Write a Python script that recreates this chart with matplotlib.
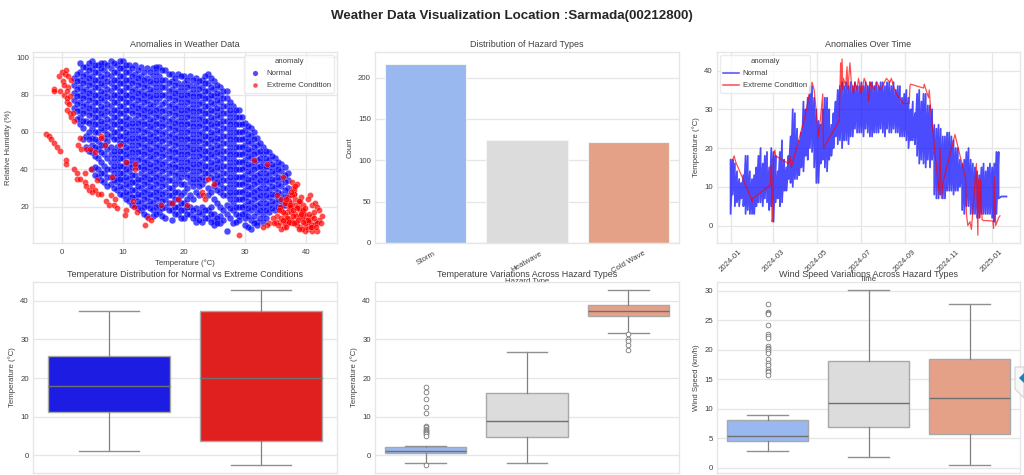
import pandas as pd
import matplotlib.pyplot as plt
import matplotlib.dates as mdates
from matplotlib.patches import Polygon

plt.rcParams['font.family'] = ['Liberation Sans', 'DejaVu Sans']
plt.rcParams['text.color'] = '#404040'
plt.rcParams['axes.labelcolor'] = '#404040'
plt.rcParams['xtick.color'] = '#404040'
plt.rcParams['ytick.color'] = '#404040'

# scatter: humidity readings grouped by temperature
normal_rh_by_temp = {
    2: [89, 85, 81, 77, 73],
    3: [97, 92, 88, 84, 80, 76, 72, 68, 64],
    4: [95, 91, 87, 83, 79, 75, 71, 66, 58, 52],
    5: [98, 94, 90, 86, 82, 78, 74, 70, 66, 62, 57, 53, 49, 40],
    6: [96, 92, 88, 84, 80, 76, 72, 68, 64, 60, 55, 51, 46, 40, 36],
    7: [97, 93, 89, 85, 81, 77, 73, 69, 65, 61, 57, 53, 48, 42, 38, 33],
    8: [98, 94, 90, 86, 82, 78, 74, 70, 66, 62, 58, 52, 48, 44, 40, 36, 32],
    9: [96, 92, 88, 84, 80, 76, 72, 68, 64, 60, 56, 52, 48, 44, 40, 36, 33, 29],
    10: [98, 94, 90, 86, 82, 78, 74, 70, 66, 62, 58, 54, 50, 46, 42, 38, 34, 30, 26],
    11: [96, 92, 88, 84, 80, 76, 72, 67, 63, 59, 55, 51, 47, 43, 39, 35, 31, 27, 23],
    12: [96, 91, 87, 83, 79, 75, 71, 67, 63, 59, 55, 51, 47, 43, 37, 33, 29, 25, 21],
    13: [95, 90, 86, 82, 78, 74, 70, 66, 62, 58, 54, 50, 46, 42, 38, 34, 30, 26, 22, 18],
    14: [94, 89, 85, 81, 77, 73, 69, 65, 61, 57, 53, 49, 45, 41, 37, 33, 29, 25, 21, 15],
    15: [94, 90, 86, 82, 78, 74, 70, 66, 62, 58, 54, 50, 46, 42, 38, 34, 30, 26, 22, 18, 15],
    16: [95, 90, 86, 82, 78, 73, 69, 65, 61, 57, 53, 49, 45, 41, 37, 33, 29, 25, 21, 17],
    17: [93, 88, 84, 80, 76, 72, 68, 64, 60, 56, 52, 48, 44, 40, 36, 32, 28, 24, 20, 14],
    18: [91, 87, 83, 79, 75, 71, 67, 63, 59, 55, 51, 47, 43, 39, 34, 30, 26, 22, 18, 13],
    19: [91, 86, 82, 78, 74, 70, 66, 62, 58, 54, 50, 46, 42, 38, 34, 28, 24, 20, 16],
    20: [90, 86, 82, 78, 74, 70, 66, 62, 58, 54, 50, 46, 42, 38, 32, 28, 22, 18, 14],
    21: [90, 85, 81, 77, 73, 69, 65, 61, 57, 53, 49, 45, 41, 37, 33, 26, 20, 16],
    22: [89, 85, 81, 77, 73, 69, 65, 61, 57, 53, 49, 45, 41, 37, 33, 28, 19, 15, 12],
    23: [88, 84, 80, 76, 72, 68, 64, 60, 56, 52, 48, 44, 40, 36, 32, 20, 16, 12],
    24: [91, 86, 82, 78, 74, 70, 66, 62, 58, 54, 50, 46, 42, 38, 30, 26, 18, 14],
    25: [87, 83, 79, 75, 71, 67, 63, 59, 55, 51, 47, 43, 39, 35, 31, 24, 16, 13, 10],
    26: [84, 80, 76, 72, 68, 64, 60, 56, 52, 48, 44, 40, 36, 32, 28, 20, 15, 11],
    27: [82, 78, 74, 70, 66, 62, 58, 54, 50, 46, 42, 38, 34, 30, 26, 21, 16, 7],
    28: [74, 70, 66, 62, 58, 54, 50, 46, 42, 38, 34, 30, 26, 22, 18, 11],
    29: [72, 68, 64, 60, 56, 52, 48, 44, 40, 36, 32, 28, 24, 20, 15, 13],
    30: [65, 61, 57, 53, 49, 45, 41, 37, 33, 29, 25, 21, 17, 14, 10],
    31: [62, 58, 54, 50, 46, 42, 38, 34, 30, 26, 22, 18, 13, 8],
    32: [57, 53, 49, 45, 41, 37, 33, 29, 25, 21, 17, 12, 10],
    33: [52, 48, 44, 40, 36, 32, 28, 24, 20, 16, 12],
    34: [49, 45, 41, 37, 33, 29, 25, 21, 17],
    35: [46, 42, 38, 34, 30, 26, 22, 18],
    36: [43, 39, 35, 31, 27, 23, 20],
    37: [38, 34, 30, 26, 22],
}
normal_rh_half_deg = {
    2.5: [91, 87, 83, 79, 75, 71, 67],
    3.5: [95, 90, 86, 82, 78, 74, 70, 66, 62, 56],
    4.5: [97, 93, 89, 85, 81, 77, 73, 69, 65, 60, 56, 50],
    5.5: [96, 92, 88, 84, 80, 76, 72, 68, 64, 60, 56, 52, 47, 41, 37],
    6.5: [97, 94, 90, 86, 82, 78, 74, 70, 66, 62, 53, 49, 44, 38, 34],
    7.5: [96, 91, 87, 83, 79, 75, 71, 67, 63, 59, 55, 51, 46, 40, 36, 31],
    8.5: [97, 92, 88, 84, 80, 76, 72, 68, 64, 60, 56, 50, 46, 42, 38, 34, 30],
    9.5: [98, 94, 90, 86, 82, 78, 74, 70, 66, 62, 58, 54, 50, 46, 42, 38, 35, 31, 27],
    10.5: [96, 92, 88, 84, 80, 76, 72, 68, 64, 60, 56, 52, 48, 44, 40, 36, 32, 28, 24],
    11.5: [94, 90, 86, 82, 78, 74, 70, 65, 61, 57, 53, 49, 45, 41, 37, 33, 29, 25, 21],
    12.5: [93, 89, 85, 81, 77, 73, 69, 65, 61, 57, 53, 49, 45, 41, 35, 31, 27, 23, 19],
    13.5: [92, 88, 84, 80, 76, 72, 68, 64, 60, 56, 52, 48, 44, 40, 36, 32, 28, 24, 20, 16],
    14.5: [92, 87, 83, 79, 75, 71, 67, 63, 59, 55, 51, 47, 43, 39, 35, 31, 27, 23, 19],
    15.5: [95, 92, 88, 84, 80, 76, 72, 68, 64, 60, 56, 52, 48, 44, 40, 36, 32, 28, 24, 20, 16],
    16.5: [93, 88, 84, 80, 75, 71, 67, 63, 59, 55, 51, 47, 43, 39, 35, 31, 27, 23, 19, 15],
    17.5: [91, 86, 82, 78, 74, 70, 66, 62, 58, 54, 50, 46, 42, 38, 34, 30, 26, 22, 18],
    18.5: [89, 85, 81, 77, 73, 69, 65, 61, 57, 53, 49, 45, 41, 37, 32, 28, 24, 20, 16],
    19.5: [90, 84, 80, 76, 72, 68, 64, 60, 56, 52, 48, 44, 40, 36, 32, 26, 22, 18, 14],
    20.5: [88, 84, 80, 76, 72, 68, 64, 60, 56, 52, 48, 44, 40, 36, 30, 24, 20, 16],
    21.5: [88, 83, 79, 75, 71, 67, 63, 59, 55, 51, 47, 43, 39, 35, 31, 24, 18, 14],
    22.5: [87, 83, 79, 75, 71, 67, 63, 59, 55, 51, 47, 43, 39, 35, 31, 26, 17, 13],
    23.5: [90, 86, 82, 78, 74, 70, 66, 62, 58, 54, 50, 46, 42, 38, 34, 18, 14],
    24.5: [89, 84, 80, 76, 72, 68, 64, 60, 56, 52, 48, 44, 40, 36, 28, 20, 16, 12],
    25.5: [85, 81, 77, 73, 69, 65, 61, 57, 53, 49, 45, 41, 37, 33, 29, 22, 14, 11],
    26.5: [82, 78, 74, 70, 66, 62, 58, 54, 50, 46, 42, 38, 34, 30, 26, 18, 13],
    27.5: [76, 72, 68, 64, 60, 56, 52, 48, 44, 40, 36, 32, 28, 24, 19, 14],
    28.5: [72, 68, 64, 60, 56, 52, 48, 44, 40, 36, 32, 28, 24, 20, 16, 12],
    29.5: [68, 64, 60, 56, 52, 48, 44, 40, 36, 32, 28, 24, 20, 16],
    30.5: [63, 59, 55, 51, 47, 43, 39, 35, 31, 27, 23, 19, 15, 9],
    31.5: [60, 56, 52, 48, 44, 40, 36, 32, 28, 24, 20, 15, 11],
    32.5: [54, 50, 46, 42, 38, 34, 30, 26, 22, 18, 14],
    33.5: [50, 46, 42, 38, 34, 30, 26, 22, 18, 14],
    34.5: [47, 43, 39, 35, 31, 27, 23, 19],
    35.5: [44, 40, 36, 32, 28, 24, 20],
    36.5: [41, 37, 33, 29, 25, 21],
}
extreme_temp = [
    -2.5, -2, -1.8, -1.2, -0.8, -0.3, 0.7, 0.7, 2, 2.5, 2.5, 3, 3.8, 3.8, 4, 4.5, 5, 5, 5.5, 6,
    6.5, 5.8, 7.3, 7.8, 8, 8.5, 8.8, 9, 10.5, 10.3, 11.7, 11.9, 12.3, -1.3, -1.2, -0.5, -0.2, 0, 0.2, 0.4,
    0.5, 0.7, 0.8, 1, 1.1, 1.3, 1.5, 0.3, 0.8, 1.2, 0.9, 1.4, 0.8, 1.5, 1.8, 2, 3, 2.7, 3.2, 4,
    4.6, 5.4, 6.5, 7.1, 8.2, 9.5, 10.5, 12, 12, 6.5, 4.8, 13.7, 14.2, 14.6, 29.1, 23, 23.1, 23.4, 24, 25,
    19, 20.5, 18, 16.2, 31.5, 33.7, 36.3, 35.2, 37.7, 37.9, 38.1, 38.3, 37.5, 38, 38.6, 37.2, 36.9, 38.8, 39.2, 39.6,
    39, 40.6, 41, 40.3, 41.5, 41.8, 42.1, 42.7, 42.2, 41.6, 41, 40.4, 39.8, 39.1, 38.5, 37.8, 37.1, 36.6, 36, 35.7,
    35.2, 35.8, 36.4, 37, 37.6, 38.2, 38.8, 39.4, 40, 40.6, 41.2, 41.8, 41.9, 41, 40.1, 39.3, 38.4, 37.6, 36.7, 35.9,
    35.1, 34.6, 34, 33.6, 33, 36, 36.8, 37.5, 38.3, 39, 39.7, 40.5, 37, 38, 39, 40, 41, 38.5, 39.5, 40.5,
    36.2, 36.9, 37.4, 37.9, 38.4, 38.9, 39.4, 39.9, 40.4, 40.9, 41.4, 36.5, 37.2, 37.8, 38.6, 39.2, 39.8, 40.3, 40.8, 41.3,
    35.4, 35.9, 36.5, 37.3, 37.9, 38.7, 39.3, 37.5, 38.2, 36.8, 37.4, 38.1, 38.8, 35.6, 36.2, 36.7, 34.8, 42.4, 41.7, 39.6,
]
extreme_rh = [
    59, 58, 56, 54, 52, 50, 45, 43, 40, 38, 35, 35, 38, 33, 31, 29, 31, 28, 29, 27,
    27, 34, 23, 21, 26, 21, 24, 19.5, 18, 15.5, 23, 20, 17, 83, 82, 90, 82, 92, 87, 80,
    91, 93, 76, 90, 84, 79, 88, 85, 78, 75, 72, 70, 82, 68, 70, 66, 57, 53, 51, 51,
    51, 49, 58, 53, 36, 53, 44, 40, 43, 57, 40, 10, 14, 13, 5, 28, 26, 24, 35, 32,
    24, 21, 22, 21, 45, 43, 36, 26, 33, 30, 27, 24, 22, 29, 32, 19, 17, 22, 25, 21,
    18, 26, 21, 24, 22, 20, 18, 15, 13, 12, 10, 8, 7, 9, 10, 11, 14, 16, 18, 20,
    15, 12, 9, 11, 13, 16, 19, 17, 15, 13, 10, 7, 11, 15, 13, 18, 15, 20, 22, 24,
    12, 14, 11, 10, 9, 8, 13, 17, 21, 23, 16, 12, 25, 27, 15, 9, 7, 20, 18, 16,
    17, 14, 20, 15, 12, 23, 14, 19, 12, 9, 17, 11, 23, 26, 19, 16, 11, 13, 9, 14,
    10, 14, 22, 12, 18, 13, 8, 28, 31, 24, 21, 11, 8, 18, 13, 9, 11, 11, 9, 12,
]

# bar chart
hazard_types = ['Storm', 'Heatwave', 'Cold Wave']
hazard_counts = [216, 124, 122]
hazard_colors = ['#9ab8f0', '#dcdcdc', '#e5a088']

# time series: high/low readings every three days from 2024-01-01
temp_high = [
    17, 17, 16, 14, 12, 11, 13, 18, 18, 14, 12,
    13, 15, 18, 20, 16, 18, 19, 15, 20, 19,
    18, 14, 19, 22, 17, 15, 18, 23, 30, 29,
    25, 22, 24, 32, 30, 33, 36, 36, 33, 30,
    27, 26, 30, 33, 33, 30, 26, 29, 32, 35,
    36, 37, 36, 37, 36, 37, 36, 37, 36, 36,
    37, 36, 37, 36, 37, 37, 36, 37, 36, 37,
    37, 36, 37, 37, 36, 37, 35, 36, 36, 33,
    34, 35, 33, 30, 32, 29, 34, 35, 32, 34,
    34, 31, 31, 30, 26, 25, 26, 25, 23, 23,
    24, 24, 23, 22, 20, 20, 17, 16, 17, 19,
    20, 17, 16, 15, 14, 13, 15, 16, 14, 15,
    16, 15, 16, 19, 19,
]
temp_low = [
    3, 8, 5, 6, 5, 7, 5, 3, 4, 3, 3,
    3, 5, 6, 6, 5, 7, 6, 4, 5, 1,
    6, 7, 5, 6, 9, 9, 12, 11, 10, 12,
    12, 13, 15, 14, 18, 17, 20, 19, 15, 11,
    11, 16, 17, 15, 14, 17, 18, 20, 23, 21,
    22, 20, 22, 22, 21, 23, 23, 25, 24, 24,
    24, 23, 25, 24, 23, 23, 24, 24, 24, 25,
    24, 23, 25, 24, 24, 25, 24, 24, 23, 23,
    23, 22, 20, 22, 22, 21, 18, 16, 17, 16,
    15, 17, 15, 17, 8, 7, 7, 8, 7, 7,
    9, 9, 9, 8, 9, 9, 10, 4, 3, 5,
    5, 3, 3, 3, 2, 2, 3, 3, 3, 3,
    3, 2, 1, 3, 7,
]
tail_dates = ['2025-01-14', '2025-01-21']
tail_temps = [7.5, 7.5]

extreme_dates = [
    '2024-01-04', '2024-01-06', '2024-01-08', '2024-01-30', '2024-01-31', '2024-02-01', '2024-02-26',
    '2024-02-27', '2024-02-28', '2024-02-29', '2024-03-01', '2024-03-03', '2024-03-04', '2024-03-22',
    '2024-03-24', '2024-03-26', '2024-04-14', '2024-04-22', '2024-04-24', '2024-04-27', '2024-05-03',
    '2024-05-06', '2024-05-09', '2024-05-10', '2024-06-01', '2024-06-02', '2024-06-03', '2024-06-04',
    '2024-06-05', '2024-06-06', '2024-06-07', '2024-06-10', '2024-06-12', '2024-06-13', '2024-06-14',
    '2024-06-16', '2024-06-18', '2024-06-19', '2024-06-21', '2024-06-23', '2024-06-26', '2024-06-28',
    '2024-07-02', '2024-07-06', '2024-07-10', '2024-07-12', '2024-07-15', '2024-07-20', '2024-07-24',
    '2024-07-28', '2024-08-01', '2024-08-06', '2024-08-11', '2024-08-13', '2024-08-16', '2024-08-20',
    '2024-08-28', '2024-08-29', '2024-09-07', '2024-09-08', '2024-09-09', '2024-09-27', '2024-09-28',
    '2024-10-04', '2024-10-05', '2024-10-07', '2024-10-19', '2024-10-20', '2024-10-22', '2024-10-24',
    '2024-11-10', '2024-11-25', '2024-11-26', '2024-11-28', '2024-12-01', '2024-12-03', '2024-12-10',
    '2024-12-12', '2024-12-13', '2024-12-15', '2024-12-16', '2024-12-18', '2024-12-19', '2024-12-20',
    '2025-01-02', '2025-01-03', '2025-01-04', '2025-01-06', '2025-01-08', '2025-01-10', '2025-01-12',
]
extreme_temps = [
    17, 18, 16.5, 7, 6, 7, 10.5,
    15.5, 1, 2, 18, 19.5, 18, 16,
    18, 15, 28, 36, 37, 35, 23,
    28, 34, 20, 27, 35, 42, 36,
    43, 35, 38, 36, 41, 35, 37,
    42, 37, 36, 34, 37, 35, 38,
    34, 38, 36, 32, 37, 35, 37,
    35, 36, 38, 37, 38, 36, 34,
    32, 31.5, 31.5, 36, 36.5, 35.5, 36.5,
    33, 35, 30, 8, 20, 7, 11,
    23.5, 12, 3, 0, 1, -1, 16,
    -2.5, 12, 2, 12, 1.5, 1.4, 1.3,
    1.2, -0.7, 12.5, 0, 1, 2, 2.5,
]
time_ticks = ['2024-01-01', '2024-03-01', '2024-05-01', '2024-07-01', '2024-09-01', '2024-11-01', '2025-01-01']

# box plots (q1, median, q3, whisker low, whisker high)
anomaly_boxes = [[11.2, 18, 25.7, 1.2, 37.5], [3.8, 20, 37.4, -2.5, 42.7]]
anomaly_colors = ['#1c1ce3', '#e01f1f']

hazard_temp_boxes = [[0.5, 1, 2.2, -2, 2.4], [4.8, 8.8, 16.2, -2, 26.8], [36, 37.5, 38.9, 31.8, 42.7]]
hazard_temp_fliers = [
    [17.7, 16.4, 14.6, 12.5, 11, 7.5, 7.2, 6.9, 6.6, 6.3, 6, 5.7, 5.4, 5.1, -2.6],
    [],
    [31.3, 30, 29.5, 28.5, 27.3],
]
hazard_wind_boxes = [[4.6, 5.5, 8.2, 2.9, 8.9], [6.9, 11, 18.2, 1.9, 30.1], [5.7, 11.9, 18.5, 0.5, 27.7]]
hazard_wind_fliers = [
    [27.7, 26.5, 26.3, 26.1, 24.3, 22.7, 22.3, 22, 20.7, 20.4, 20.1, 19.8, 19.4, 18.5, 17.8, 17.4, 16.8, 16.5, 16.2, 15.8],
    [],
    [],
]


def panel(left, top, right, bottom):
    # axes box given in pixels from the top left of the 1024x475 figure
    ax = fig.add_axes([left / 1024, 1 - bottom / 475, (right - left) / 1024, (bottom - top) / 475])
    ax.grid(True, color='#e6e6e6', lw=0.9)
    ax.set_axisbelow(True)
    for s in ax.spines.values():
        s.set_color('#e6e6e6')
        s.set_linewidth(1.0)
    ax.tick_params(length=0, labelsize=5.6, pad=3)
    return ax


def draw_boxes(ax, boxes, colors, fliers=None):
    stats = []
    for i, b in enumerate(boxes):
        stats.append({'q1': b[0], 'med': b[1], 'q3': b[2], 'whislo': b[3], 'whishi': b[4],
                      'fliers': fliers[i] if fliers else []})
    art = ax.bxp(stats, positions=range(len(boxes)), widths=0.8, patch_artist=True, manage_ticks=False,
                 capwidths=0.4,
                 medianprops={'color': '#707070', 'lw': 1.0},
                 whiskerprops={'color': '#808080', 'lw': 0.9},
                 capprops={'color': '#909090', 'lw': 1.0},
                 boxprops={'edgecolor': '#a8a8a8', 'lw': 1.0},
                 flierprops={'marker': 'o', 'markersize': 3.4, 'markerfacecolor': 'white',
                             'markeredgecolor': '#777777', 'markeredgewidth': 0.6})
    for patch, c in zip(art['boxes'], colors):
        patch.set_facecolor(c)
    ax.set_xlim(-0.5, len(boxes) - 0.5)
    ax.set_xticks([])


fig = plt.figure(figsize=(10.24, 4.75), dpi=100)
fig.text(0.5, 1 - 15.5 / 475, 'Weather Data Visualization Location :Sarmada(00212800)',
         ha='center', va='center', fontsize=9.65, fontweight='bold', color='#262626')

# top left
ax1 = panel(33, 52, 337, 243)
normal_temp = []
normal_rh = []
for group in (normal_rh_by_temp, normal_rh_half_deg):
    for t, rhs in group.items():
        normal_temp += [t] * len(rhs)
        normal_rh += rhs
ax1.scatter(normal_temp, normal_rh, s=23, c='blue', alpha=0.7, edgecolors='white', linewidths=0.15, label='Normal')
ax1.scatter(extreme_temp, extreme_rh, s=19, c='red', alpha=0.7, edgecolors='white', linewidths=0.2,
            label='Extreme Condition')
ax1.set_xlim(-4.7, 45.1)
ax1.set_ylim(0.5, 102.8)
ax1.set_xticks([0, 10, 20, 30, 40])
ax1.set_yticks([20, 40, 60, 80, 100])
ax1.tick_params(axis='x', pad=4)
ax1.set_title('Anomalies in Weather Data', fontsize=6.5, pad=3.5)
ax1.set_xlabel('Temperature (°C)', fontsize=5.6, labelpad=2.5)
ax1.set_ylabel('Relative Humidity (%)', fontsize=5.6, labelpad=3)
ax1.legend(title='anomaly', loc='upper right', fontsize=5.6, title_fontsize=5.6, markerscale=0.8, borderpad=0.4,
           labelspacing=0.6, handletextpad=0.5, framealpha=0.8, edgecolor='#e6e6e6', borderaxespad=0.4)

# top middle
ax2 = panel(375, 52, 679, 243)
ax2.bar(range(3), hazard_counts, width=0.8, color=hazard_colors, edgecolor='#f4f4f4', linewidth=0.8)
ax2.set_xlim(-0.5, 2.5)
ax2.set_ylim(0, 231)
ax2.set_xticks(range(3))
ax2.set_xticklabels(hazard_types, rotation=30)
ax2.tick_params(axis='x', pad=5)
ax2.set_yticks([0, 50, 100, 150, 200])
ax2.xaxis.grid(False)
ax2.set_title('Distribution of Hazard Types', fontsize=6.5, pad=3.5)
ax2.set_xlabel('Hazard Type', fontsize=5.6, labelpad=2)
ax2.set_ylabel('Count', fontsize=5.6, labelpad=3)

# top right
ax3 = panel(717, 52, 1020, 243)
band_dates = pd.date_range('2024-01-01', periods=len(temp_high), freq='3D')
zig_x = []
zig_y = []
for d, hi, lo in zip(band_dates, temp_high, temp_low):
    zig_x += [d, d]
    zig_y += [hi, lo]
zig_x += list(pd.to_datetime(tail_dates))
zig_y += tail_temps
ax3.plot(zig_x, zig_y, color='blue', alpha=0.7, lw=1.3, label='Normal')
ax3.plot(pd.to_datetime(extreme_dates), extreme_temps, color='red', alpha=0.7, lw=0.9, label='Extreme Condition')
ax3.set_xlim(pd.Timestamp('2023-12-13'), pd.Timestamp('2025-02-09'))
ax3.set_ylim(-4.5, 44.8)
ax3.set_xticks(pd.to_datetime(time_ticks))
ax3.xaxis.set_major_formatter(mdates.DateFormatter('%Y-%m'))
ax3.tick_params(axis='x', labelrotation=45, pad=4)
ax3.set_yticks([0, 10, 20, 30, 40])
ax3.set_title('Anomalies Over Time', fontsize=6.5, pad=3.5)
ax3.set_xlabel('Time', fontsize=5.6, labelpad=1.5)
ax3.set_ylabel('Temperature (°C)', fontsize=5.6, labelpad=3)
leg = ax3.legend(title='anomaly', loc='upper left', fontsize=5.6, title_fontsize=5.6, borderpad=0.4, labelspacing=0.6,
                 handletextpad=0.5, framealpha=0.8, edgecolor='#e6e6e6', borderaxespad=0.4)
for line in leg.get_lines():
    line.set_linewidth(1.1)

# bottom left
ax4 = panel(33, 282, 337, 473)
draw_boxes(ax4, anomaly_boxes, anomaly_colors)
ax4.set_ylim(-4.6, 44.9)
ax4.set_yticks([0, 10, 20, 30, 40])
ax4.set_title('Temperature Distribution for Normal vs Extreme Conditions', fontsize=6.5, pad=3.5)
ax4.set_ylabel('Temperature (°C)', fontsize=5.6, labelpad=3)

# bottom middle
ax5 = panel(375, 282, 679, 473)
draw_boxes(ax5, hazard_temp_boxes, hazard_colors, hazard_temp_fliers)
ax5.set_ylim(-4.6, 44.9)
ax5.set_yticks([0, 10, 20, 30, 40])
ax5.set_title('Temperature Variations Across Hazard Types', fontsize=6.5, pad=3.5)
ax5.set_ylabel('Temperature (°C)', fontsize=5.6, labelpad=3)

# bottom right
ax6 = panel(717, 282, 1020, 473)
draw_boxes(ax6, hazard_wind_boxes, hazard_colors, hazard_wind_fliers)
ax6.set_ylim(-0.85, 31.5)
ax6.set_yticks([0, 5, 10, 15, 20, 25, 30])
ax6.set_title('Wind Speed Variations Across Hazard Types', fontsize=6.5, pad=3.5)
ax6.set_ylabel('Wind Speed (km/h)', fontsize=5.6, labelpad=3)

# page widget caught at the right edge of the screenshot
tab = [(1015, 367), (1024, 367), (1024, 398), (1015, 389)]
fig.add_artist(Polygon([(x / 1024, 1 - y / 475) for x, y in tab], closed=True, transform=fig.transFigure,
                       facecolor='#f7f7f7', edgecolor='#cfcfcf', lw=0.7, zorder=5))
fig.add_artist(Polygon([(1019 / 1024, 1 - 378 / 475), (1024 / 1024, 1 - 373 / 475), (1024 / 1024, 1 - 383 / 475)],
                       closed=True, transform=fig.transFigure, facecolor='#1f7fb8', edgecolor='none', zorder=6))

fig.savefig('out.png', dpi=100)
